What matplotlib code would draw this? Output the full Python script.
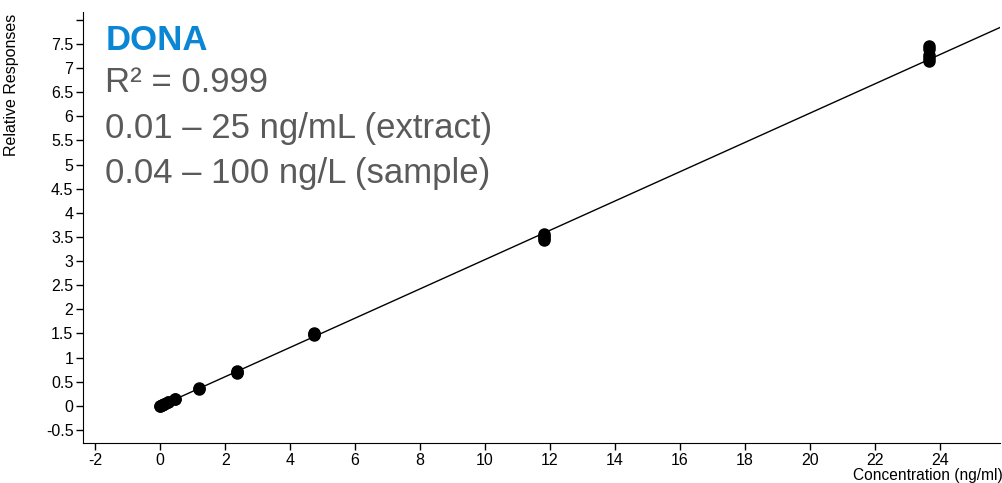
import numpy as np
import matplotlib.pyplot as plt

plt.rcParams['font.family'] = ['Liberation Sans', 'DejaVu Sans']
plt.rcParams['axes.unicode_minus'] = False

# calibration points (concentration ng/ml, relative response)
conc = [0.01, 0.01, 0.05, 0.05, 0.12, 0.12, 0.24, 0.24, 0.47, 0.47,
        1.18, 1.18, 2.37, 2.37, 2.37, 4.75, 4.75, 4.75,
        11.8, 11.8, 11.8, 11.8, 23.65, 23.65, 23.65, 23.65, 23.65]
resp = [0.0, -0.01, 0.01, 0.02, 0.03, 0.04, 0.07, 0.08, 0.13, 0.15,
        0.34, 0.36, 0.68, 0.71, 0.73, 1.46, 1.49, 1.51,
        3.43, 3.47, 3.52, 3.55, 7.15, 7.2, 7.28, 7.4, 7.45]

# fitted calibration line
fit_slope = 0.3035
fit_intercept = -0.005

x_ticks = list(range(-2, 25, 2))
y_ticks = [-0.5, 0, 0.5, 1, 1.5, 2, 2.5, 3, 3.5, 4, 4.5, 5, 5.5, 6, 6.5, 7, 7.5, 8]
y_labels = ['-0.5', '0', '0.5', '1', '1.5', '2', '2.5', '3', '3.5', '4', '4.5',
            '5', '5.5', '6', '6.5', '7', '7.5', '']

fig = plt.figure(figsize=(10.02, 4.83), dpi=100)
ax = fig.add_axes([0.083, 0.083, 0.915, 0.892])

xmin, xmax = -2.37, 25.85
ax.set_xlim(xmin, xmax)
ax.set_ylim(-0.77, 8.16)

xs = np.linspace(0, xmax, 50)
ax.plot(xs, fit_slope * xs + fit_intercept, color='black', lw=1)
ax.plot(conc, resp, 'o', color='black', markersize=8)

ax.spines['top'].set_visible(False)
ax.spines['right'].set_visible(False)
ax.set_xticks(x_ticks)
ax.set_yticks(y_ticks)
ax.set_yticklabels(y_labels)
ax.tick_params(labelsize=11.5, length=5, width=1, colors='black')
ax.tick_params(axis='y', pad=2)
ax.tick_params(axis='x', pad=2)

ax.set_ylabel('Relative Responses', fontsize=11.5)
ax.yaxis.set_label_coords(-0.07, 0.83)
fig.text(1.001, 0.001, 'Concentration (ng/ml)', fontsize=11.2, ha='right', va='bottom')

# annotation block
fig.text(0.105, 0.897, 'DONA', fontsize=25, fontweight='bold', color='#0a86d4', va='baseline')
gray = '#5a5a5a'
fig.text(0.105, 0.81, 'R² = 0.999', fontsize=25, color=gray, va='baseline')
fig.text(0.105, 0.715, '0.01 – 25 ng/mL (extract)', fontsize=25, color=gray, va='baseline')
fig.text(0.105, 0.621, '0.04 – 100 ng/L (sample)', fontsize=25, color=gray, va='baseline')

fig.savefig('out.png', dpi=100)
